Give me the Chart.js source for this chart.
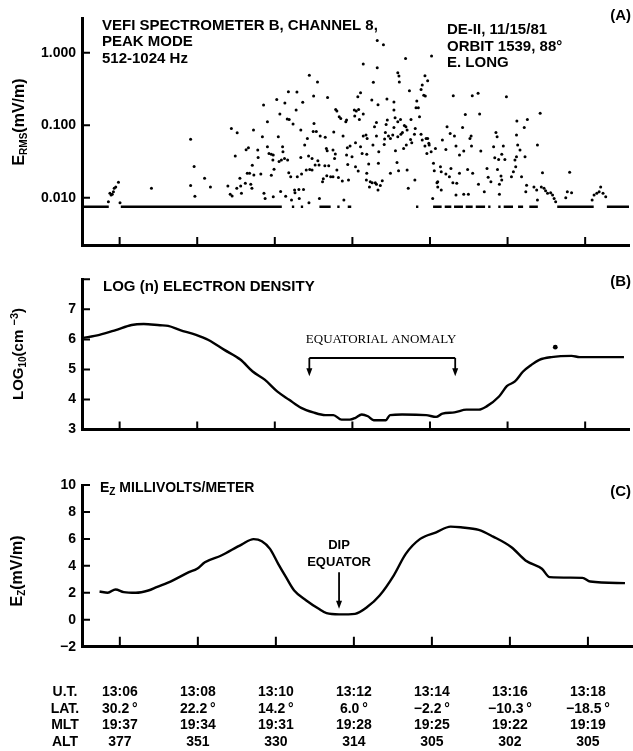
<!DOCTYPE html>
<html>
<head>
<meta charset="utf-8">
<script src="https://cdn.jsdelivr.net/npm/chart.js@4.4.1/dist/chart.umd.min.js"></script>
<style>
body { margin: 0; background: #fff; }
#wrap { position: relative; width: 633px; height: 751px; background: #fff; }
#wrap canvas { position: absolute; left: 0; }
</style>
</head>
<body>
<div id="wrap">
  <canvas id="panelA" width="633" height="262" style="top:0px"></canvas>
  <canvas id="panelB" width="633" height="190" style="top:262px"></canvas>
  <canvas id="panelC" width="633" height="299" style="top:452px"></canvas>
</div>
<script>
const INK = '#000';
const FONT = '"Liberation Sans", Arial, Helvetica, sans-serif';

// time axis: minutes after 13:00 UT
const xMin = 5.03;
const xMax = 19.13;
const tickMinutes = [6, 8, 10, 12, 14, 16, 18];
const utLabels = ['13:06', '13:08', '13:10', '13:12', '13:14', '13:16', '13:18'];
const latLabels = ['30.2\u2009°', '22.2\u2009°', '14.2\u2009°', '6.0\u2009°', '\u22122.2\u2009°', '\u221210.3\u2009°', '\u221218.5\u2009°'];
const mltLabels = ['19:37', '19:34', '19:31', '19:28', '19:25', '19:22', '19:19'];
const altLabels = ['377', '351', '330', '314', '305', '302', '305'];

// (A) E rms, mV/m  [minute, value]
const ermsTicks = [0.01, 0.1, 1];
const ermsPoints = [
  [5.71,0.0088],[5.75,0.0115],[5.78,0.0109],[5.81,0.0112],[5.84,0.0121],[5.86,0.0135],[5.90,0.0141],[5.97,0.0163],[6.01,0.0085],
  [6.82,0.0135],[7.83,0.064],[7.92,0.027],[7.83,0.0147],[7.94,0.0105],[8.19,0.0185],[8.34,0.0141],[8.79,0.0145],[8.85,0.0112],
  [8.90,0.0106],[8.88,0.090],[9.03,0.079],[8.98,0.0376],[9.02,0.0135],[9.10,0.0185],[9.14,0.0115],[9.12,0.0145],[9.24,0.0158],
  [9.26,0.046],[9.32,0.049],[9.29,0.0217],[9.35,0.0217],[9.38,0.0153],[9.42,0.028],[9.41,0.0135],[9.45,0.086],[9.46,0.0206],[9.56,0.0455],
  [12.64,1.47],[12.80,1.29],[13.37,0.835],[14.04,0.90],[12.28,0.698],[12.64,0.621],[10.89,0.487],[11.10,0.394],[12.54,0.39],
  [13.17,0.53],[13.20,0.476],[13.21,0.394],[13.87,0.482],[13.94,0.411],[13.47,0.299],[13.80,0.358],[13.77,0.312],[13.84,0.258],
  [13.88,0.252],[10.35,0.29],[10.57,0.287],[9.71,0.19],[10.05,0.227],[10.26,0.202],[10.72,0.207],[11.00,0.252],[11.36,0.242],
  [12.21,0.281],[12.14,0.247],[12.50,0.222],[12.66,0.192],[12.89,0.23],[13.07,0.209],[13.66,0.215],[13.70,0.174],[13.64,0.174],
  [11.57,0.165],[11.60,0.157],[11.66,0.131],[11.70,0.124],[11.85,0.118],[11.83,0.112],[12.05,0.162],[12.10,0.157],[12.16,0.165],
  [12.06,0.134],[12.28,0.143],[12.18,0.12],[10.13,0.143],[10.32,0.122],[10.37,0.12],[9.81,0.112],[10.55,0.162],[10.47,0.104],
  [10.67,0.0858],[11.01,0.106],[10.99,0.0822],[11.07,0.0822],[11.17,0.071],[11.30,0.068],[11.52,0.0805],[11.76,0.071],[9.68,0.0694],
  [10.09,0.0694],[10.84,0.0658],[10.77,0.0532],[10.87,0.0376],[10.96,0.0349],[11.11,0.0324],[11.14,0.0282],[11.33,0.0479],
  [11.35,0.0445],[11.50,0.0454],[11.56,0.040],[11.54,0.0349],[11.87,0.049],[11.94,0.0516],[12.08,0.0574],[11.85,0.0388],
  [11.99,0.0368],[9.81,0.0505],[9.85,0.0409],[9.91,0.0398],[9.96,0.0388],[9.95,0.0331],[10.20,0.0505],[10.21,0.0431],[10.25,0.0349],
  [10.17,0.0331],[10.11,0.0317],[9.57,0.036],[10.33,0.0331],[10.67,0.036],[9.64,0.0212],[9.91,0.0205],[9.98,0.0248],[10.36,0.0221],
  [10.41,0.0195],[10.58,0.0195],[10.69,0.0212],[10.81,0.0241],[10.90,0.0246],[10.96,0.0241],[11.04,0.0282],[11.29,0.0276],
  [11.39,0.0276],[11.44,0.0195],[11.25,0.0183],[11.23,0.0166],[11.34,0.0201],[11.50,0.0195],[11.60,0.0241],[11.64,0.019],
  [11.74,0.017],[11.90,0.0175],[11.88,0.0288],[12.08,0.0268],[12.15,0.0233],[12.37,0.0217],[12.37,0.0398],[12.42,0.0291],
  [12.53,0.0532],[12.62,0.071],[12.57,0.0953],[12.35,0.0731],[12.28,0.071],[12.38,0.0658],[12.67,0.0298],[12.68,0.0431],
  [12.82,0.0544],[12.83,0.0644],[12.85,0.0796],[12.87,0.1026],[12.90,0.118],[12.93,0.071],[12.98,0.0658],[13.04,0.0731],
  [13.07,0.0933],[13.10,0.127],[13.07,0.162],[13.24,0.12],[13.17,0.112],[13.34,0.0995],[13.38,0.0953],[13.41,0.0858],[13.51,0.12],
  [13.50,0.0638],[13.53,0.0574],[13.60,0.0748],[13.62,0.0904],[13.73,0.131],[13.77,0.0748],[13.80,0.0624],[13.87,0.0516],
  [13.90,0.0658],[13.94,0.0658],[13.97,0.0562],[13.98,0.0532],[14.03,0.0431],[14.14,0.0479],[13.11,0.0445],[13.15,0.0307],
  [12.98,0.0217],[13.19,0.0236],[13.32,0.0479],[13.39,0.0532],[13.41,0.0241],[13.17,0.0694],[13.25,0.0748],[13.29,0.0796],
  [12.62,0.109],[12.46,0.0166],[12.51,0.0161],[12.59,0.0161],[12.62,0.0153],[12.72,0.0147],[12.77,0.0172],[12.66,0.0128],
  [12.44,0.0141],[12.36,0.0175],[12.21,0.0505],[12.25,0.0409],[13.92,0.0409],[14.09,0.0298],[14.11,0.0236],[14.18,0.0161],
  [14.07,0.0098],[9.72,0.0115],[9.75,0.0098],[9.96,0.0103],[10.15,0.0122],[10.28,0.0105],[10.43,0.0093],[10.51,0.0128],
  [10.62,0.013],[10.74,0.013],[10.52,0.0117],[10.63,0.0098],[10.88,0.0085],[11.15,0.0098],[11.78,0.0093],[13.44,0.0135],[13.61,0.0175],
  [14.60,0.255],[15.09,0.255],[15.24,0.275],[15.97,0.247],[14.91,0.141],[15.28,0.143],[14.44,0.0953],[14.84,0.0933],[14.52,0.0771],
  [14.63,0.071],[14.32,0.0624],[15.06,0.071],[15.03,0.0658],[15.70,0.0796],[15.73,0.0694],[16.24,0.114],[16.51,0.12],[16.84,0.146],
  [16.43,0.0933],[16.23,0.0731],[14.67,0.0516],[14.41,0.0464],[14.87,0.044],[14.76,0.0388],[15.07,0.0516],[15.31,0.044],
  [15.64,0.0505],[15.89,0.0516],[15.85,0.0398],[16.26,0.0532],[16.32,0.0454],[15.67,0.0355],[15.77,0.0338],[15.93,0.0338],
  [16.23,0.0368],[16.19,0.0331],[16.45,0.0368],[16.77,0.0532],[14.27,0.0268],[14.54,0.0254],[14.29,0.0228],[14.41,0.0212],
  [14.50,0.0195],[14.76,0.0217],[14.97,0.0246],[15.10,0.0217],[15.47,0.0254],[15.74,0.0246],[16.15,0.0228],[16.21,0.0268],
  [15.50,0.0191],[15.57,0.0166],[15.83,0.020],[15.85,0.0175],[15.79,0.0154],[16.10,0.0195],[16.36,0.0195],[16.90,0.0221],
  [17.60,0.0224],[14.20,0.0166],[14.59,0.0161],[14.69,0.0158],[14.20,0.0141],[14.29,0.0128],[14.67,0.0109],[14.87,0.0112],
  [14.99,0.0112],[15.25,0.0154],[15.40,0.0121],[15.79,0.0112],[16.49,0.0149],[16.68,0.0141],[16.75,0.0128],[16.87,0.0141],
  [16.94,0.0135],[16.98,0.0125],[17.03,0.0115],[17.11,0.0117],[17.16,0.0109],[17.20,0.0098],[17.24,0.0088],[16.47,0.0121],
  [16.77,0.0093],[17.54,0.0121],[17.65,0.0117],[17.50,0.010],[18.23,0.0109],[18.30,0.0115],[18.36,0.0121],[18.40,0.0141],
  [18.46,0.0115],[18.53,0.0103],[18.18,0.0093]
];
// instrument floor level and where it is drawn
const ermsFloor = 0.0075;
const floorSegments = [
  [5.03,5.72],[6.03,10.18],[10.44,10.50],[10.67,10.73],[11.15,11.44],[11.61,11.67],[11.88,11.97],[13.64,13.70],
  [14.08,14.30],[14.38,14.55],[14.62,14.85],[14.92,15.10],[15.18,15.42],[15.50,15.56],[15.76,15.82],[15.90,16.14],
  [16.27,16.40],[16.56,16.78],[17.28,18.22],[18.56,19.13]
];

// (B) log10 electron density
const densityTicks = [3, 4, 5, 6, 7, 8];
const densityPoints = [
  [5.03,6.04],[5.48,6.15],[5.90,6.31],[6.31,6.48],[6.62,6.51],[7.04,6.47],[7.25,6.45],[7.56,6.31],[7.97,6.15],[8.29,5.98],
  [8.70,5.65],[9.12,5.32],[9.43,4.93],[9.74,4.66],[10.06,4.27],[10.37,3.99],[10.68,3.72],[10.99,3.57],[11.30,3.48],[11.51,3.48],
  [11.72,3.33],[11.93,3.33],[12.08,3.39],[12.24,3.50],[12.40,3.44],[12.55,3.31],[12.86,3.31],[12.97,3.48],[13.28,3.50],[13.90,3.48],
  [14.16,3.42],[14.32,3.53],[14.63,3.57],[14.94,3.66],[15.26,3.66],[15.46,3.77],[15.78,4.10],[15.98,4.44],[16.19,4.60],[16.40,4.93],
  [16.61,5.15],[16.82,5.32],[17.13,5.41],[17.65,5.45],[17.86,5.41],[19.00,5.41]
];
const densityDot = [17.23, 5.74];
const anomalySpan = [10.89, 14.65];
const anomalyLevels = [5.38, 4.77];      // bracket bar, arrow tips
const anomalyLabelAt = [12.74, 5.98];

// (C) Ez, mV/m
const ezTicks = [-2, 0, 2, 4, 6, 8, 10];
const ezPoints = [
  [5.48,2.10],[5.69,2.00],[5.89,2.25],[6.10,2.05],[6.41,2.00],[6.73,2.17],[6.94,2.42],[7.35,2.91],[7.77,3.53],[7.98,3.78],
  [8.18,4.27],[8.60,4.77],[9.12,5.58],[9.43,5.98],[9.64,5.83],[9.85,5.26],[10.06,4.15],[10.26,3.16],[10.47,2.17],[10.78,1.43],
  [11.10,0.81],[11.30,0.49],[11.62,0.40],[12.03,0.44],[12.34,0.94],[12.66,1.80],[13.02,3.28],[13.33,4.89],[13.70,6.00],[14.11,6.49],
  [14.48,6.91],[14.74,6.86],[15.20,6.67],[15.57,6.17],[16.04,5.38],[16.40,4.40],[16.82,3.78],[17.02,3.16],[17.86,3.11],[18.06,2.84],
  [18.95,2.72]
];
const dipMinute = 11.62;
const dipArrow = [3.53, 0.81];
const dipLabelLevels = [5.5, 4.27];

Chart.defaults.font.family = FONT;
Chart.defaults.color = INK;

function bold(size) { return 'bold ' + size + 'px ' + FONT; }

// text run with sub/superscript pieces: [text, size, dy]
function drawRich(ctx, parts, x, y, align) {
  let w = 0;
  parts.forEach(p => { ctx.font = bold(p[1]); w += ctx.measureText(p[0]).width; });
  let cx = align === 'center' ? x - w / 2 : (align === 'right' ? x - w : x);
  ctx.textAlign = 'left';
  parts.forEach(p => {
    ctx.font = bold(p[1]);
    ctx.fillText(p[0], cx, y + (p[2] || 0));
    cx += ctx.measureText(p[0]).width;
  });
}

function drawRotated(ctx, parts, x, y) {
  ctx.save();
  ctx.translate(x, y);
  ctx.rotate(-Math.PI / 2);
  drawRich(ctx, parts, 0, 0, 'center');
  ctx.restore();
}

function arrowDown(ctx, x, yTop, yTip) {
  ctx.beginPath();
  ctx.moveTo(x, yTop);
  ctx.lineTo(x, yTip - 4);
  ctx.stroke();
  ctx.beginPath();
  ctx.moveTo(x - 3, yTip - 8);
  ctx.lineTo(x + 3, yTip - 8);
  ctx.lineTo(x, yTip);
  ctx.closePath();
  ctx.fill();
}

// tick marks pointing into the plot
const innerTicks = {
  id: 'innerTicks',
  afterDraw(chart, args, opts) {
    const { ctx, chartArea: a, scales: { x, y } } = chart;
    ctx.save();
    ctx.strokeStyle = INK;
    ctx.lineWidth = 2;
    ctx.beginPath();
    x.ticks.forEach(t => {
      const px = x.getPixelForValue(t.value);
      ctx.moveTo(px, a.bottom);
      ctx.lineTo(px, a.bottom - opts.xLen);
    });
    y.ticks.forEach(t => {
      const py = y.getPixelForValue(t.value);
      ctx.moveTo(a.left, py);
      ctx.lineTo(a.left + opts.yLen, py);
    });
    ctx.stroke();
    ctx.restore();
  }
};

function timeAxis() {
  return {
    type: 'linear',
    min: xMin,
    max: xMax,
    bounds: 'data',
    ticks: { display: false },
    grid: { display: true, drawOnChartArea: false, drawTicks: false },
    border: { display: true, color: INK, width: 3 },
    afterBuildTicks: s => { s.ticks = tickMinutes.map(v => ({ value: v })); },
    afterFit: s => { s.height = 0; }
  };
}

function valueAxis(extra, tickValues, fmt) {
  return Object.assign({
    bounds: 'data',
    ticks: { font: { size: 14, weight: 'bold' }, color: INK, padding: 6, autoSkip: false, callback: fmt },
    grid: { display: true, drawOnChartArea: false, drawTicks: false },
    border: { display: true, color: INK, width: 3 },
    afterBuildTicks: s => { s.ticks = tickValues.map(v => ({ value: v })); },
    afterFit: s => { s.width = 82; }
  }, extra);
}

const baseOptions = (padTop, padBottom, xLen) => ({
  responsive: false,
  animation: false,
  devicePixelRatio: 1,
  layout: { padding: { left: 0, right: 1, top: padTop, bottom: padBottom } },
  plugins: {
    legend: { display: false },
    tooltip: { enabled: false },
    innerTicks: { xLen: xLen, yLen: 8 }
  }
});

// ---------- panel A ----------
const floorData = [];
floorSegments.forEach((s, i) => {
  floorData.push({ x: s[0], y: ermsFloor }, { x: s[1], y: ermsFloor });
  if (i < floorSegments.length - 1) floorData.push({ x: (s[1] + floorSegments[i + 1][0]) / 2, y: null });
});

const panelAText = {
  id: 'panelAText',
  afterDraw(chart) {
    const ctx = chart.ctx;
    ctx.save();
    ctx.fillStyle = INK;
    ctx.textBaseline = 'middle';
    ctx.textAlign = 'left';
    ctx.font = bold(15);
    ctx.fillText('VEFI SPECTROMETER B, CHANNEL 8,', 102, 26);
    ctx.fillText('PEAK MODE', 102, 42);
    ctx.fillText('512-1024 Hz', 102, 59);
    ctx.fillText('DE-II, 11/15/81', 447, 30);
    ctx.fillText('ORBIT 1539, 88°', 447, 47);
    ctx.fillText('E. LONG', 447, 63);
    ctx.textAlign = 'right';
    ctx.fillText('(A)', 631, 16);
    drawRotated(ctx, [['E', 16], ['RMS', 10, 4], ['(mV/m)', 16]], 20, 122);
    ctx.restore();
  }
};

new Chart(document.getElementById('panelA'), {
  type: 'scatter',
  data: {
    datasets: [
      {
        data: ermsPoints.map(p => ({ x: p[0], y: p[1] })),
        pointRadius: 1.5, pointBorderWidth: 0, backgroundColor: INK, showLine: false
      },
      {
        data: floorData, showLine: true, spanGaps: false,
        borderColor: INK, borderWidth: 2.6, pointRadius: 0
      }
    ]
  },
  options: Object.assign(baseOptions(18, 17, 8), {
    scales: {
      x: timeAxis(),
      y: valueAxis({ type: 'logarithmic', min: 0.00223, max: 3.01 }, ermsTicks, v => Number(v).toFixed(3))
    }
  }),
  plugins: [innerTicks, panelAText]
});

// ---------- panel B ----------
const panelBText = {
  id: 'panelBText',
  afterDraw(chart) {
    const { ctx, scales: { x, y } } = chart;
    ctx.save();
    ctx.fillStyle = INK;
    ctx.strokeStyle = INK;
    ctx.textBaseline = 'middle';
    ctx.textAlign = 'left';
    ctx.font = bold(15);
    ctx.fillText('LOG (n) ELECTRON DENSITY', 103, 25);
    ctx.textAlign = 'right';
    ctx.fillText('(B)', 631, 20);
    drawRotated(ctx, [['LOG', 15], ['10', 10, 4], ['(cm ', 15], ['\u22123', 11, -4], [')', 15]], 19, 92);

    // equatorial anomaly bracket
    const x0 = x.getPixelForValue(anomalySpan[0]);
    const x1 = x.getPixelForValue(anomalySpan[1]);
    const yb = y.getPixelForValue(anomalyLevels[0]);
    const yt = y.getPixelForValue(anomalyLevels[1]);
    ctx.lineWidth = 1.8;
    ctx.beginPath();
    ctx.moveTo(x0, yb);
    ctx.lineTo(x1, yb);
    ctx.stroke();
    arrowDown(ctx, x0, yb, yt);
    arrowDown(ctx, x1, yb, yt);
    ctx.textAlign = 'center';
    ctx.font = '13px "Liberation Serif", "Times New Roman", serif';
    ctx.fillText('EQUATORIAL ANOMALY', x.getPixelForValue(anomalyLabelAt[0]), y.getPixelForValue(anomalyLabelAt[1]));
    ctx.restore();
  }
};

new Chart(document.getElementById('panelB'), {
  type: 'line',
  data: {
    datasets: [
      {
        data: densityPoints.map(p => ({ x: p[0], y: p[1] })),
        borderColor: INK, borderWidth: 2.4, pointRadius: 0,
        cubicInterpolationMode: 'monotone'
      },
      {
        data: [{ x: densityDot[0], y: densityDot[1] }],
        showLine: false, pointRadius: 2.4, pointBorderWidth: 0, backgroundColor: INK
      }
    ]
  },
  options: Object.assign(baseOptions(17.3, 22.5, 8), {
    scales: {
      x: timeAxis(),
      y: valueAxis({ type: 'linear', min: 3, max: 8 }, densityTicks, v => (v === 8 ? '' : String(v)))
    }
  }),
  plugins: [innerTicks, panelBText]
});

// ---------- panel C ----------
const panelCText = {
  id: 'panelCText',
  afterDraw(chart) {
    const { ctx, scales: { x, y } } = chart;
    ctx.save();
    ctx.fillStyle = INK;
    ctx.strokeStyle = INK;
    ctx.textBaseline = 'middle';
    drawRich(ctx, [['E', 14], ['Z', 10, 4], [' MILLIVOLTS/METER', 14]], 100, 36, 'left');
    ctx.font = bold(15);
    ctx.textAlign = 'right';
    ctx.fillText('(C)', 631, 40);
    drawRotated(ctx, [['E', 16], ['Z', 10, 4], ['(mV/m)', 16]], 18, 119);

    // dip equator marker
    const xd = x.getPixelForValue(dipMinute);
    ctx.textAlign = 'center';
    ctx.font = bold(13);
    ctx.fillText('DIP', xd, y.getPixelForValue(dipLabelLevels[0]));
    ctx.fillText('EQUATOR', xd, y.getPixelForValue(dipLabelLevels[1]));
    ctx.lineWidth = 1.8;
    arrowDown(ctx, xd, y.getPixelForValue(dipArrow[0]), y.getPixelForValue(dipArrow[1]));

    // orbit table under the axis
    const rows = [['U.T.', utLabels], ['LAT.', latLabels], ['MLT', mltLabels], ['ALT', altLabels]];
    const rowY = [240, 257, 273.5, 290];
    ctx.font = bold(14);
    rows.forEach((r, i) => {
      ctx.textAlign = 'center';
      ctx.fillText(r[0], 65, rowY[i]);
      r[1].forEach((label, j) => {
        ctx.fillText(label, x.getPixelForValue(tickMinutes[j]), rowY[i]);
      });
    });
    ctx.restore();
  }
};

new Chart(document.getElementById('panelC'), {
  type: 'line',
  data: {
    datasets: [{
      data: ezPoints.map(p => ({ x: p[0], y: p[1] })),
      borderColor: INK, borderWidth: 2.4, pointRadius: 0,
      cubicInterpolationMode: 'monotone'
    }]
  },
  options: Object.assign(baseOptions(33, 104.3, 10), {
    scales: {
      x: timeAxis(),
      y: valueAxis({ type: 'linear', min: -2, max: 10 }, ezTicks, v => (v < 0 ? '\u2212' + Math.abs(v) : String(v)))
    }
  }),
  plugins: [innerTicks, panelCText]
});
</script>
</body>
</html>
